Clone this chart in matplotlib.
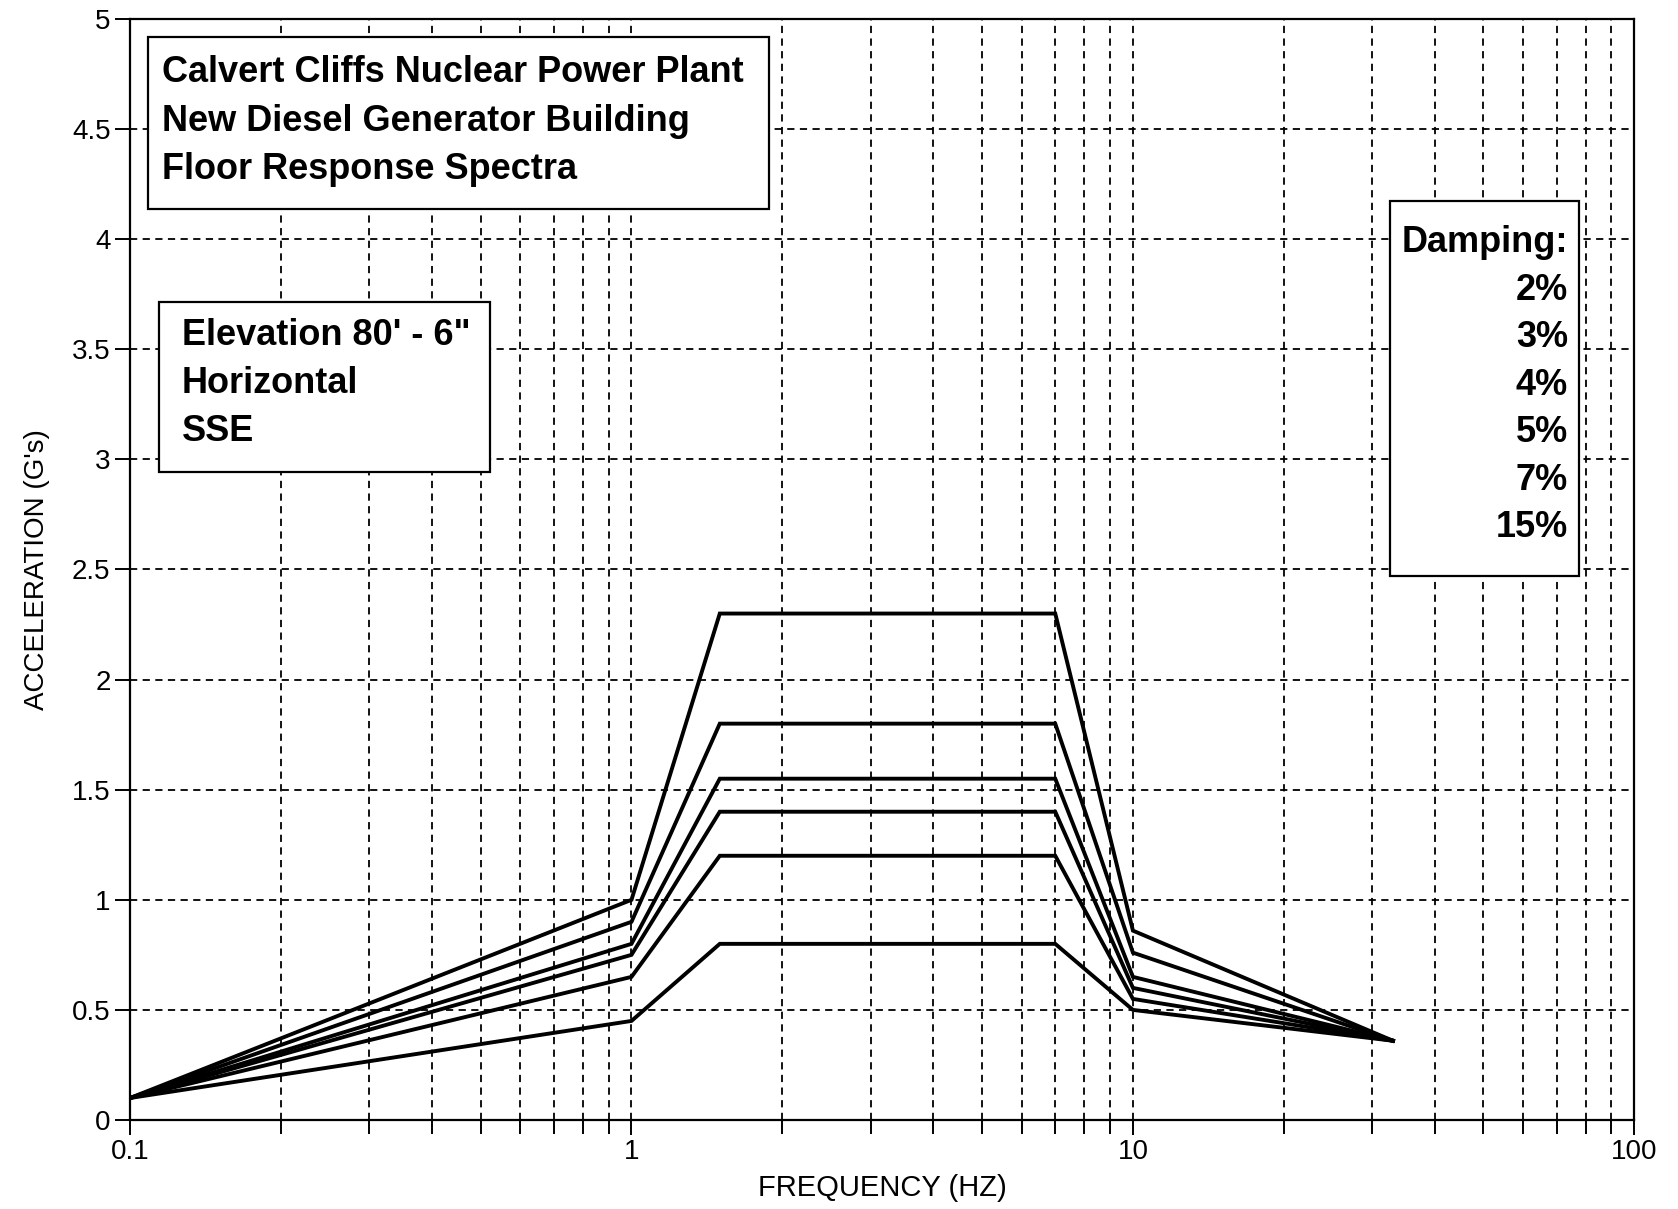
import numpy as np
import matplotlib.pyplot as plt
from matplotlib.patches import Rectangle
from matplotlib.ticker import FixedLocator, NullFormatter

# frequency break points (Hz)
freq = [0.1, 1.0, 1.5, 7.0, 10.0, 33.0]

# acceleration (g) for each damping value
damping_labels = ["2%", "3%", "4%", "5%", "7%", "15%"]
acc_2 = [0.10, 1.00, 2.30, 2.30, 0.86, 0.36]
acc_3 = [0.10, 0.90, 1.80, 1.80, 0.76, 0.36]
acc_4 = [0.10, 0.80, 1.55, 1.55, 0.65, 0.36]
acc_5 = [0.10, 0.75, 1.40, 1.40, 0.60, 0.36]
acc_7 = [0.10, 0.65, 1.20, 1.20, 0.55, 0.36]
acc_15 = [0.10, 0.45, 0.80, 0.80, 0.50, 0.36]
curves = [acc_2, acc_3, acc_4, acc_5, acc_7, acc_15]

y_ticks = [0, 0.5, 1, 1.5, 2, 2.5, 3, 3.5, 4, 4.5, 5]
y_tick_labels = ["0", "0.5", "1", "1.5", "2", "2.5", "3", "3.5", "4", "4.5", "5"]
x_ticks = [0.1, 1, 10, 100]
x_tick_labels = ["0.1", "1", "10", "100"]

title_lines = ["Calvert Cliffs Nuclear Power Plant", "New Diesel Generator Building",
               "Floor Response Spectra"]
info_lines = ["Elevation 80' - 6\"", "Horizontal", "SSE"]

plt.rcParams['font.family'] = ['Liberation Sans', 'DejaVu Sans']

fig = plt.figure(figsize=(16.78, 12.09), dpi=100)
ax = fig.add_axes([0.0775, 0.0736, 0.8965, 0.9107])

dash = (0, (4, 3))
for c in curves:
    ax.plot(freq, c, color='black', lw=2.8, solid_joinstyle='miter', zorder=3)

ax.set_xscale('log')
ax.set_xlim(0.1, 100)
ax.set_ylim(0, 5)

minor = [m * d for d in (0.1, 1, 10) for m in range(2, 10)]
ax.xaxis.set_major_locator(FixedLocator(x_ticks))
ax.xaxis.set_minor_locator(FixedLocator(minor))
ax.xaxis.set_minor_formatter(NullFormatter())
ax.set_xticklabels(x_tick_labels)
ax.set_yticks(y_ticks)
ax.set_yticklabels(y_tick_labels)

ax.grid(which='both', axis='x', color='black', linestyle=dash, lw=1.3)
ax.grid(which='major', axis='y', color='black', linestyle=dash, lw=1.3)
ax.tick_params(which='major', direction='out', length=11, width=1.4, labelsize=20, pad=3)
ax.tick_params(which='minor', direction='out', length=10, width=1.4)
for s in ax.spines.values():
    s.set_linewidth(1.6)

ax.set_xlabel("FREQUENCY (HZ)", fontsize=21, labelpad=6)
ax.set_ylabel("ACCELERATION (G's)", fontsize=20, labelpad=16)


# framed block of bold text, placed in axes fractions
def text_box(x0, y0, x1, y1, tx, ty, step, lines, ha):
    ax.add_patch(Rectangle((x0, y0), x1 - x0, y1 - y0, transform=ax.transAxes,
                           facecolor='white', edgecolor='black', lw=1.6, zorder=5))
    for i, line in enumerate(lines):
        ax.text(tx, ty - i * step, line, transform=ax.transAxes, ha=ha, va='center',
                fontsize=26, fontweight='bold', zorder=6)


text_box(0.012, 0.8274, 0.4245, 0.9837, 0.021, 0.9511, 0.0438, title_lines, 'left')
text_box(0.0191, 0.5886, 0.2390, 0.7431, 0.0345, 0.7121, 0.0433, info_lines, 'left')
text_box(0.8378, 0.4943, 0.9631, 0.8345, 0.9559, 0.7966, 0.0431,
         ["Damping:"] + damping_labels, 'right')

fig.savefig("out.png", dpi=100)
